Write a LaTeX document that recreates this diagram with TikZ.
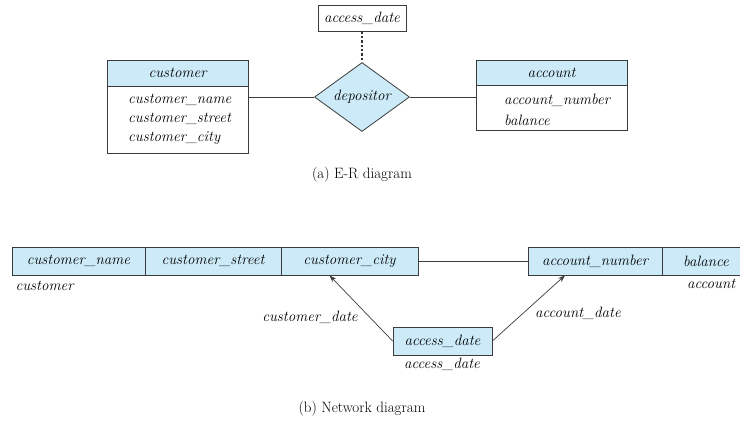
\documentclass[tikz,border=0pt]{standalone}
\usetikzlibrary{shapes.geometric,arrows.meta,calc}
\definecolor{fillblue}{RGB}{204,234,248}
\definecolor{edge}{RGB}{60,60,60}
\begin{document}
\begin{tikzpicture}[x=1pt,y=-1pt,
  txt/.style={font=\fontsize{15}{19}\selectfont\itshape},
  box/.style={draw=edge,line width=0.8pt,inner sep=0pt,txt},
  bluebox/.style={box,fill=fillblue},
  cell/.style={bluebox,minimum height=28pt},
  link/.style={draw=edge,line width=0.7pt},
  arr/.style={link,-{Stealth[length=7pt,width=5pt]}},
  caption/.style={font=\fontsize{15}{18}\selectfont}]
\useasboundingbox (0,0) rectangle (740,434);

% ---------- (a) E-R diagram ----------
\node[box,minimum width=88pt,minimum height=26pt] (attr) at (362,18) {access\_date};
\node[diamond,draw=edge,fill=fillblue,line width=0.8pt,inner sep=0pt,
      minimum width=95pt,minimum height=69pt,aspect=1.38,txt] (dep) at (362,97) {depositor};

\node[bluebox,minimum width=141pt,minimum height=26pt] (custh) at (177.5,73) {customer};
\node[box,minimum width=141pt,minimum height=67pt,anchor=north] (custb) at (custh.south) {};
\node[txt,anchor=west,align=left] (custt) at ($(custb.west)+(18,-1)$)
  {customer\_name\\customer\_street\\customer\_city};

\node[bluebox,minimum width=151pt,minimum height=25pt] (acch) at (551.5,72.5) {account};
\node[box,minimum width=151pt,minimum height=45pt,anchor=north] (accb) at (acch.south) {};
\node[txt,anchor=west,align=left,font=\fontsize{15}{21}\selectfont\itshape] (acct) at ($(accb.west)+(25,2)$)
  {account\_number\\balance};

\draw[link] (custb.east |- dep.west) -- (dep.west);
\draw[link] (dep.east) -- (accb.west |- dep.east);
\draw[draw=black!80,line width=2.6pt,dash pattern=on 2.4pt off 2pt] (attr.south) -- (dep.north);

\node[caption] (capa) at (362,175) {(a) E-R diagram};

% ---------- (b) Network diagram ----------
\node[cell,minimum width=133pt] (cn) at (78.5,261) {customer\_name};
\node[cell,minimum width=136pt] (cs) at (213,261) {customer\_street};
\node[cell,minimum width=137pt] (cc) at (349.5,261) {customer\_city};
\node[txt,anchor=west] (clab) at (12,286) {customer};

\node[cell,minimum width=134pt] (an) at (595,261) {account\_number};
\node[cell,minimum width=88pt] (ab) at (706,261) {balance};
\node[txt,anchor=west,inner xsep=0pt] (alab) at (687,284) {account};

\draw[link] (cc.east) -- (an.west);

\node[cell,minimum width=99pt,minimum height=28pt] (ad) at (442.5,341) {access\_date};
\node[txt] (adlab) at (442,364) {access\_date};

\draw[arr] (ad.west) -- ($(cc.south)+(-20,0)$);
\draw[arr] (ad.east) -- ($(an.south)+(-30,0)$);

\node[txt] (cdate) at (310,317) {customer\_date};
\node[txt] (adate) at (578,313) {account\_date};

\node[caption] (capb) at (362,409) {(b) Network diagram};
\end{tikzpicture}
\end{document}
